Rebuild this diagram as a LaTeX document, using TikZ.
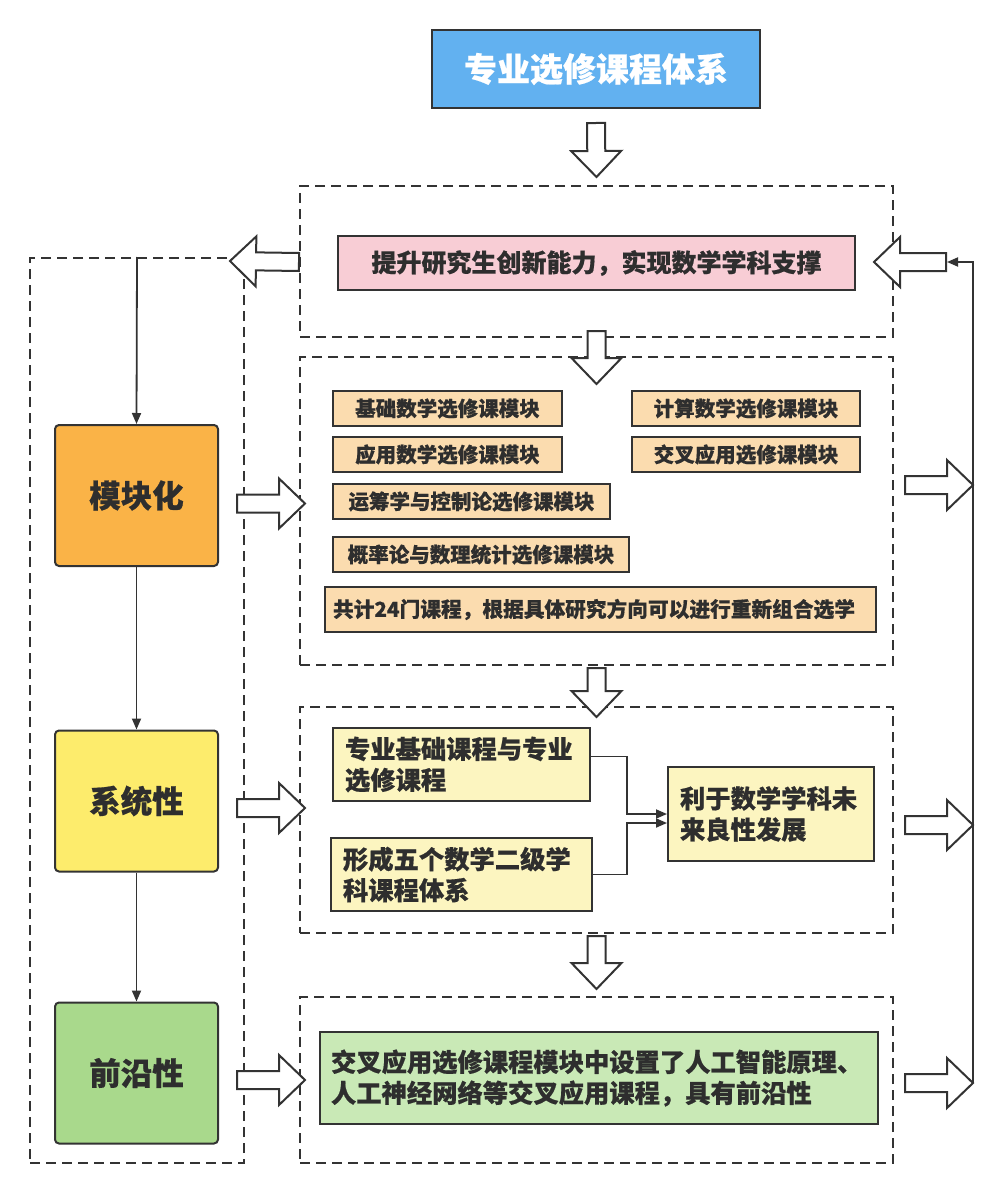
\documentclass[tikz,border=0pt]{standalone}
\usepackage{fontspec}
\setmainfont{Noto Sans CJK SC}[BoldFeatures={FakeBold=0.6}]
\usetikzlibrary{calc,arrows.meta}
\definecolor{linec}{HTML}{333333}
\definecolor{txt}{HTML}{2E2E2E}
\definecolor{titlec}{HTML}{62B1F0}
\definecolor{pinkc}{HTML}{F8CDD5}
\definecolor{peachc}{HTML}{FBDCAF}
\definecolor{lyellow}{HTML}{FCF5C0}
\definecolor{lgreen}{HTML}{C9E9B6}
\definecolor{orangec}{HTML}{FAB347}
\definecolor{yellowc}{HTML}{FDEC6C}
\definecolor{greenc}{HTML}{A9D98C}
\tikzset{
  box/.style={draw=linec, line width=2pt, inner sep=0pt, text=txt},
  dbox/.style={draw=linec, line width=2pt, dash pattern=on 10pt off 6pt, inner sep=0pt},
  blockarr/.style={draw=linec, fill=white, line width=2pt, line join=miter},
  conn/.style={draw=linec, line width=1.8pt, -{Triangle[length=11pt,width=9pt]}},
  modbox/.style={box, fill=peachc, minimum height=35pt, font=\bfseries\fontsize{20.5}{24}\selectfont},
  sidebox/.style={box, rounded corners=4pt, minimum width=163pt, minimum height=141pt, font=\bfseries\fontsize{31.5}{36}\selectfont},
  twoline/.style={box, align=left, font=\bfseries\fontsize{25.3}{31}\selectfont},
}
\newcommand\blockarrow[2]{%
  \path #1 coordinate (ba1) #2 coordinate (ba2);
  \path ($(ba2)!26pt!(ba1)$) coordinate (bah);
  \draw[blockarr] ($(ba1)!9pt!90:(ba2)$) -- ($(bah)!9pt!90:(ba2)$) -- ($(bah)!25pt!90:(ba2)$) -- (ba2)
    -- ($(bah)!25pt!-90:(ba2)$) -- ($(bah)!9pt!-90:(ba2)$) -- ($(ba1)!9pt!-90:(ba2)$) -- cycle;
}
\begin{document}
\begin{tikzpicture}[x=1pt,y=-1pt]
\useasboundingbox (0,0) rectangle (1004,1193);
% dashed frames
\node[dbox, minimum width=593pt, minimum height=151pt] (d1) at (596.5,261.5) {};
\node[dbox, minimum width=593pt, minimum height=308pt] (d2) at (596.5,511) {};
\node[dbox, minimum width=593pt, minimum height=226pt] (d3) at (596.5,820) {};
\node[dbox, minimum width=593pt, minimum height=166pt] (d4) at (596.5,1080) {};
\node[dbox, minimum width=214pt, minimum height=905pt] (L) at (137,710.5) {};
% title
\node[box, fill=titlec, text=white, minimum width=328pt, minimum height=78pt,
      font=\bfseries\fontsize{33}{38}\selectfont] (title) at (596,69) {专业选修课程体系};
% pink
\node[box, fill=pinkc, minimum width=517pt, minimum height=54pt,
      font=\bfseries\fontsize{25}{28}\selectfont] (pink) at (596.5,263) {提升研究生创新能力，实现数学学科支撑};
% modules
\node[modbox, minimum width=229pt] (m1) at (447.5,408.5) {基础数学选修课模块};
\node[modbox, minimum width=228pt] (m2) at (746,408.5) {计算数学选修课模块};
\node[modbox, minimum width=229pt] (m3) at (447.5,454.5) {应用数学选修课模块};
\node[modbox, minimum width=228pt] (m4) at (746,454.5) {交叉应用选修课模块};
\node[modbox, minimum width=277pt] (m5) at (471.5,501.5) {运筹学与控制论选修课模块};
\node[modbox, minimum width=296pt] (m6) at (481,554.5) {概率论与数理统计选修课模块};
\node[modbox, minimum width=551pt, minimum height=45pt, text width=535pt, inner xsep=8pt, align=left,
      font=\bfseries\fontsize{20.7}{24}\selectfont] (m7) at (600.5,609.5) {共计24门课程，根据具体研究方向可以进行重新组合选学};
% system
\node[twoline, fill=lyellow, minimum width=257pt, minimum height=73pt, text width=233pt] (A) at (461.5,764.5) {专业基础课程与专业\\选修课程};
\node[twoline, fill=lyellow, minimum width=261pt, minimum height=73pt, text width=237pt] (B) at (461.5,874.5) {形成五个数学二级学\\科课程体系};
\node[twoline, fill=lyellow, minimum width=206pt, minimum height=94pt, text width=182pt] (C) at (771,814) {利于数学学科未\\来良性发展};
% frontier
\node[twoline, fill=lgreen, minimum width=558pt, minimum height=92pt, text width=536pt, inner xsep=11pt] (G) at (599,1078) {交叉应用选修课程模块中设置了人工智能原理、\\人工神经网络等交叉应用课程，具有前沿性};
% side boxes
\node[sidebox, fill=orangec] (k1) at (136.5,495.5) {模块化};
\node[sidebox, fill=yellowc] (k2) at (136.5,801) {系统性};
\node[sidebox, fill=greenc] (k3) at (136.5,1073) {前沿性};
% thin connectors
\draw[conn] (L.north) -- (k1.north);
\draw[conn] (k1.south) -- (k2.north);
\draw[conn] (k2.south) -- (k3.north);
\coordinate (j) at (627,800);
\draw[conn] ([yshift=8pt]A.east) -- ([yshift=8pt]A.east -| j) |- (C.west);
\draw[conn] (B.east) -- (B.east -| j) |- ([yshift=-9pt]C.west);
% right feedback line
\coordinate (r) at (973,800);
\coordinate (rt) at ($(pink.east)+(90,-1)$);
\draw[conn] ($(r |- d4.east)+(0,3)$) -- (r |- rt) -- ([xshift=1pt]rt);
% block arrows
\blockarrow{($(title.south)+(0,14)$)}{($(d1.north)+(0,-8)$)}
\blockarrow{($(d1.south)+(0,-7)$)}{($(d2.north)+(0,28)$)}
\blockarrow{($(d2.south)+(0,2)$)}{($(d3.north)+(0,11)$)}
\blockarrow{($(d3.south)+(0,2)$)}{($(d4.north)+(0,-7)$)}
\blockarrow{($(d1.west)+(0,0.5)$)}{($(L.north east)+(-15,4)$)}
\blockarrow{($(k1.east)+(18,8)$)}{($(d2.west |- k1.east)+(6,8)$)}
\blockarrow{($(k2.east)+(18,7)$)}{($(d3.west |- k2.east)+(6,7)$)}
\blockarrow{($(k3.east)+(18,7)$)}{($(d4.west |- k3.east)+(6,7)$)}
\blockarrow{($(d2.east)+(11,-26)$)}{($(r |- d2.east)+(0,-26)$)}
\blockarrow{($(d3.east)+(11,5)$)}{($(r |- d3.east)+(0,5)$)}
\blockarrow{($(d4.east)+(11,3)$)}{($(r |- d4.east)+(0,3)$)}
\blockarrow{(rt)}{($(pink.east)+(18,-1)$)}
\end{tikzpicture}
\end{document}
